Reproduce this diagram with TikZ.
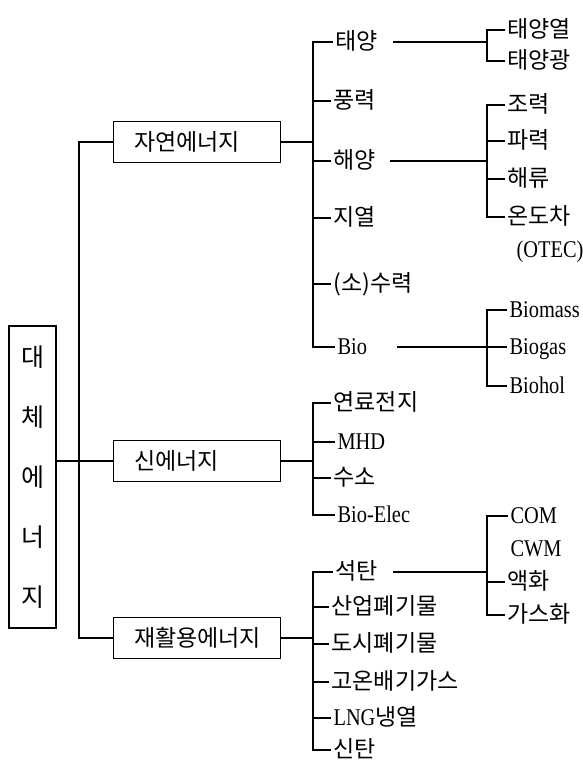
\documentclass[tikz,border=0pt]{standalone}
\usepackage{fontspec}
\setmainfont[FakeStretch=0.85]{Liberation Serif}
\newfontfamily\kr{Noto Sans CJK KR}
\begin{document}
\begin{tikzpicture}[x=1pt,y=-1pt,
  every path/.style={line width=1.1pt},
  item/.style={anchor=west, inner xsep=2pt, inner ysep=0pt, text height=15pt, text depth=0pt, font=\fontsize{23}{23}\selectfont\kr},
  litem/.style={item, text height=15pt, font=\fontsize{24}{24}\selectfont},
  catbox/.style={draw, anchor=west, minimum height=41pt, text width=126pt, inner xsep=20.5pt, align=left, font=\fontsize{23}{23}\selectfont\kr},
  mainbox/.style={draw, minimum width=47pt, minimum height=302pt, align=center, font=\fontsize{25}{60}\selectfont\kr}
]
\useasboundingbox (0,0) rectangle (583,763);

% main box
\node[mainbox] (main) at (32.5,477) {대\\체\\에\\너\\지};

% category boxes
\node[catbox] (nat) at (113,142) {자연에너지};
\node[catbox] (new) at (113,461) {신에너지};
\node[catbox] (rec) at (113,638) {재활용에너지};

\coordinate (sp) at (79,0);
\coordinate (s1) at (313,0);
\coordinate (s2) at (487,0);

% trunk
\draw (new.west -| main.east) -- (new.west);
\draw (nat.west) -- (nat.west -| sp) -- (rec.west -| sp) -- (rec.west);

% natural energy items
\node[item] (n1) at (333,42) {태양};
\node[item] (n2) at (331,101) {풍력};
\node[item] (n3) at (331,161) {해양};
\node[item] (n4) at (331,218) {지열};
\node[item] (n5) at (331,284) {(소)수력};
\node[litem] (n6) at (335,347) {Bio};
\draw (nat.east) -- (nat.east -| s1);
\draw (n1.west) -- (n1.west -| s1) -- (n6.west -| s1) -- (n6.west);
\foreach \n in {n2,n3,n4,n5} \draw (\n.west -| s1) -- (\n.west);

% solar sub
\node[item] (a1) at (505,30) {태양열};
\node[item] (a2) at (505,61) {태양광};
\coordinate (h1) at (393,42);
\draw (h1) -- (h1 -| s2);
\draw (a1.west) -- (a1.west -| s2) -- (a2.west -| s2) -- (a2.west);

% ocean sub
\node[item] (b1) at (505,105) {조력};
\node[item] (b2) at (505,141) {파력};
\node[item] (b3) at (505,179) {해류};
\node[item] (b4) at (505,217) {온도차};
\node[litem] (b5) at (514,250) {(OTEC)};
\coordinate (h2) at (390,161);
\draw (h2) -- (h2 -| s2);
\draw (b1.west) -- (b1.west -| s2) -- (b4.west -| s2) -- (b4.west);
\foreach \n in {b2,b3} \draw (\n.west -| s2) -- (\n.west);

% bio sub
\node[litem] (c1) at (507,310) {Biomass};
\node[litem] (c2) at (507,347) {Biogas};
\node[litem] (c3) at (507,386) {Biohol};
\coordinate (h3) at (397,347);
\draw (h3) -- (c2.west);
\draw (c1.west) -- (c1.west -| s2) -- (c3.west -| s2) -- (c3.west);

% new energy items
\node[item] (d1) at (331,403) {연료전지};
\node[litem] (d2) at (335,442) {MHD};
\node[item] (d3) at (331,478) {수소};
\node[litem] (d4) at (335,515) {Bio-Elec};
\draw (new.east) -- (new.east -| s1);
\draw (d1.west) -- (d1.west -| s1) -- (d4.west -| s1) -- (d4.west);
\foreach \n in {d2,d3} \draw (\n.west -| s1) -- (\n.west);

% recycled energy items
\node[item] (e1) at (333,572) {석탄};
\node[item] (e2) at (329,607) {산업폐기물};
\node[item] (e3) at (329,644) {도시폐기물};
\node[item] (e4) at (329,682) {고온배기가스};
\node[item] (e5) at (331,718) {\rmfamily\fontsize{24}{24}\selectfont LNG\kr\fontsize{23}{23}\selectfont 냉열};
\node[item] (e6) at (331,750) {신탄};
\draw (rec.east) -- (rec.east -| s1);
\draw (e1.west) -- (e1.west -| s1) -- (e6.west -| s1) -- (e6.west);
\foreach \n in {e2,e3,e4,e5} \draw (\n.west -| s1) -- (\n.west);

% coal sub
\node[litem] (f1) at (508,516) {COM};
\node[litem] (f2) at (508,549) {CWM};
\node[item] (f3) at (505,582) {액화};
\node[item] (f4) at (505,615) {가스화};
\coordinate (h4) at (393,572);
\draw (h4) -- (h4 -| s2);
\draw (f1.west) -- (f1.west -| s2) -- (f4.west -| s2) -- (f4.west);
\draw (f3.west -| s2) -- (f3.west);
\end{tikzpicture}
\end{document}
